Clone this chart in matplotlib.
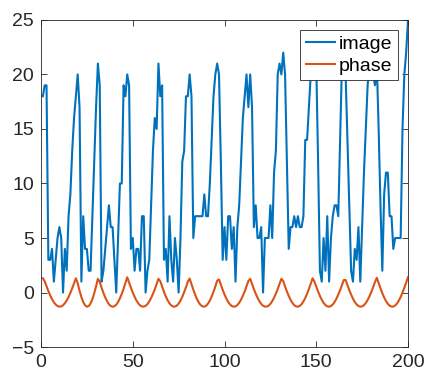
import numpy as np
import matplotlib
matplotlib.use("Agg")
import matplotlib.pyplot as plt

# --- DATA ---
image_vals = [
    18, 19, 19, 3, 3, 4, 1, 3, 5, 6,
    5, 0, 4, 2, 7, 9, 13, 16, 18, 20,
    17, 1, 7, 4, 4, 2, 2, 7, 12, 17,
    21, 19, 1, 2, 4, 6, 8, 6, 6, 3,
    0, 5, 10, 10, 19, 18, 20, 19, 4, 5,
    2, 4, 4, 2, 7, 7, 0, 2, 3, 8,
    13, 16, 15, 21, 18, 19, 3, 4, 1, 7,
    3, 1, 5, 3, 0, 5, 12, 13, 18, 18,
    20, 18, 5, 7, 7, 7, 7, 7, 9, 7,
    7, 10, 14, 18, 20, 21, 20, 12, 3, 6,
    3, 7, 7, 4, 6, 1, 6, 8, 12, 16,
    18, 20, 17, 20, 17, 6, 8, 5, 5, 6,
    0, 5, 5, 5, 8, 5, 11, 13, 20, 21,
    20, 22, 20, 12, 4, 6, 6, 7, 6, 7,
    6, 6, 7, 14, 14, 17, 20, 22, 22, 21,
    12, 2, 1, 5, 2, 7, 1, 5, 7, 8,
    8, 7, 14, 21, 22, 20, 14, 8, 2, 1,
    4, 3, 6, 1, 6, 11, 15, 19, 21, 22,
    20, 19, 21, 15, 8, 2, 9, 11, 11, 7,
    7, 4, 5, 5, 5, 5, 15, 20, 22, 25,
]

phase_vals = [
    1.31, 1.03, 0.57, 0.13, -0.26, -0.61, -0.89, -1.10, -1.24, -1.30,
    -1.27, -1.17, -0.98, -0.73, -0.41, -0.03, 0.39, 0.84, 1.31, 0.84,
    0.17, -0.41, -0.87, -1.17, -1.30, -1.24, -1.01, -0.61, -0.07, 0.57,
    1.26, 0.97, 0.45, -0.03, -0.45, -0.80, -1.07, -1.24, -1.30, -1.26,
    -1.11, -0.87, -0.53, -0.12, 0.35, 0.87, 1.40, 0.91, 0.44, 0.00,
    -0.39, -0.73, -0.99, -1.18, -1.28, -1.29, -1.22, -1.06, -0.82, -0.50,
    -0.12, 0.30, 0.77, 1.26, 1.04, 0.54, 0.07, -0.35, -0.71, -0.99,
    -1.18, -1.29, -1.29, -1.20, -1.01, -0.74, -0.39, 0.03, 0.49, 0.99,
    1.29, 0.76, 0.26, -0.20, -0.60, -0.92, -1.15, -1.27, -1.30, -1.21,
    -1.02, -0.74, -0.37, 0.07, 0.55, 1.08, 1.20, 0.71, 0.25, -0.18,
    -0.55, -0.87, -1.09, -1.24, -1.30, -1.27, -1.15, -0.94, -0.65, -0.30,
    0.11, 0.57, 1.05, 1.26, 0.78, 0.32, -0.10, -0.48, -0.79, -1.04,
    -1.21, -1.29, -1.29, -1.21, -1.04, -0.79, -0.48, -0.10, 0.32, 0.78,
    1.26, 1.05, 0.55, 0.10, -0.31, -0.67, -0.95, -1.16, -1.27, -1.30,
    -1.22, -1.07, -0.82, -0.50, -0.11, 0.33, 0.80, 1.30, 1.01, 0.54,
    0.09, -0.31, -0.67, -0.95, -1.15, -1.27, -1.30, -1.24, -1.09, -0.87,
    -0.56, -0.19, 0.22, 0.67, 1.15, 1.15, 0.67, 0.22, -0.19, -0.56,
    -0.87, -1.09, -1.24, -1.30, -1.27, -1.16, -0.96, -0.68, -0.35, 0.05,
    0.49, 0.96, 1.35, 0.86, 0.39, -0.06, -0.45, -0.78, -1.03, -1.21,
    -1.29, -1.29, -1.19, -1.01, -0.74, -0.41, -0.01, 0.44, 0.91, 1.40,
]

x_vals = np.arange(1, len(image_vals) + 1)
x_ticks = [0, 50, 100, 150, 200]
y_ticks = [-5, 0, 5, 10, 15, 20, 25]
series_labels = ["image", "phase"]

# --- STYLE (MATLAB look) ---
plt.rcParams['font.family'] = ['Liberation Sans', 'DejaVu Sans']
AX_COLOR = '#262626'

fig = plt.figure(figsize=(4.25, 3.76), dpi=100)
ax = fig.add_axes([0.0965, 0.077, 0.8635, 0.870])

ax.plot(x_vals, image_vals, color='#0072BD', lw=1.5, label=series_labels[0])
ax.plot(x_vals, phase_vals, color='#D95319', lw=1.5, label=series_labels[1])

ax.set_xlim(0, 200)
ax.set_ylim(-5, 25)
ax.set_xticks(x_ticks)
ax.set_yticks(y_ticks)
ax.tick_params(direction='in', top=True, right=True, length=4, width=0.6,
               colors=AX_COLOR, labelsize=14, pad=5)
for s in ax.spines.values():
    s.set_color(AX_COLOR)
    s.set_linewidth(0.6)

leg = ax.legend(loc='upper right', fontsize=14, frameon=True, fancybox=False,
                edgecolor=AX_COLOR, framealpha=1, handlelength=1.5,
                handletextpad=0.2, borderpad=0.3, labelspacing=0.2,
                borderaxespad=0.5)
leg.get_frame().set_linewidth(0.6)

plt.savefig('out.png', dpi=100)
